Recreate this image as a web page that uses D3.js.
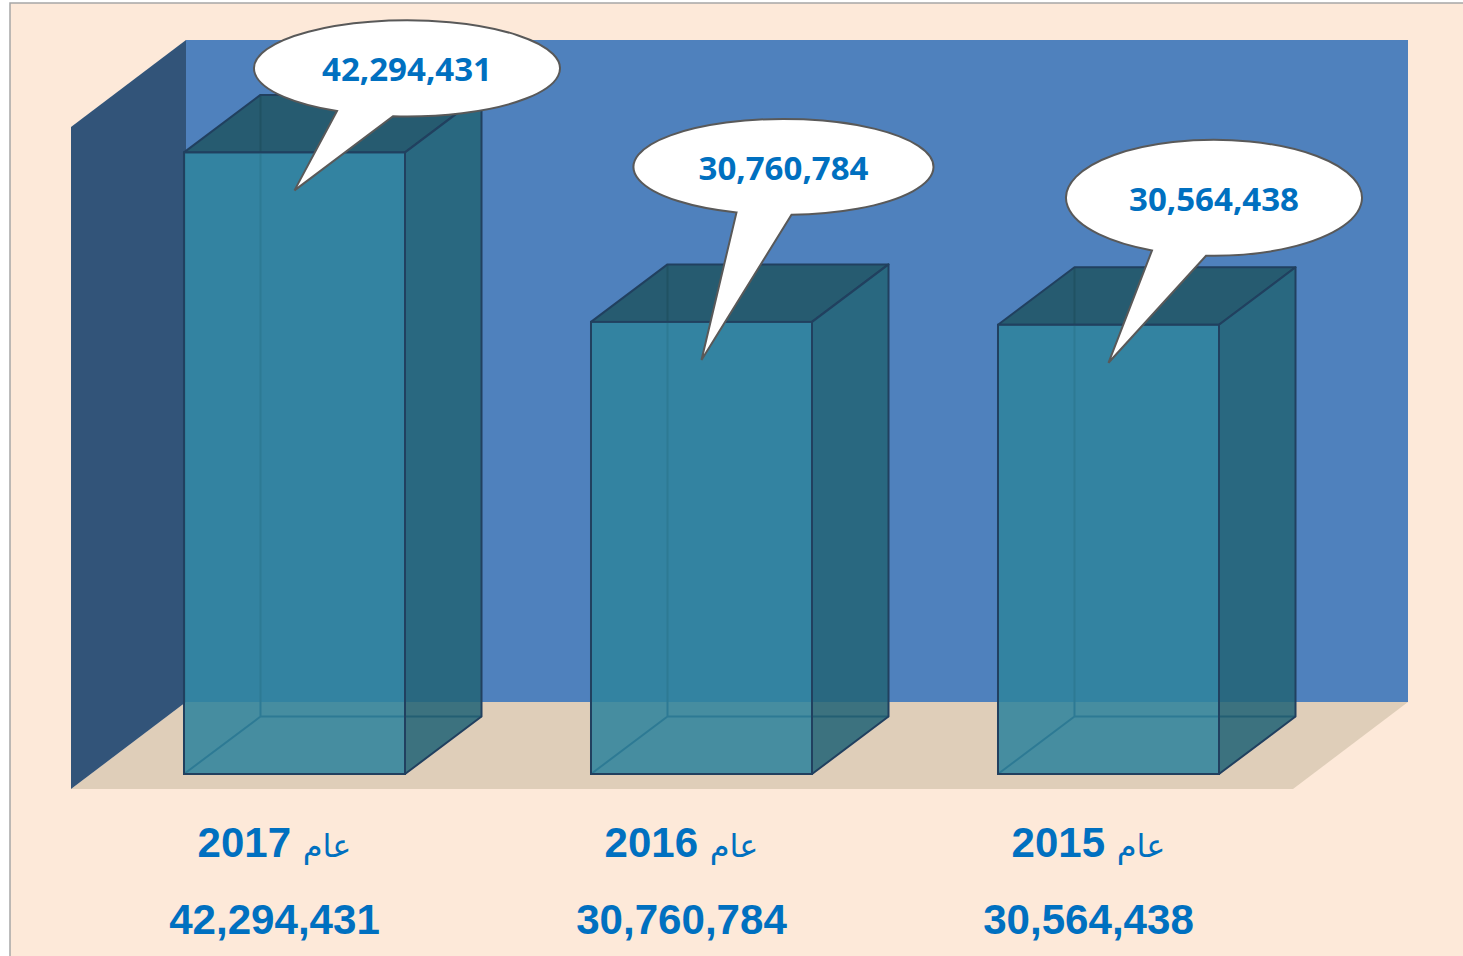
<!DOCTYPE html>
<html>
<head>
<meta charset="utf-8">
<script src="https://cdn.jsdelivr.net/npm/d3@7"></script>
<style>
  html, body { margin: 0; padding: 0; background: #fff; }
  svg { display: block; }
</style>
</head>
<body>
<div id="chart"></div>
<script>
const years = ["2017", "2016", "2015"];
const values = [42294431, 30760784, 30564438];
const yearPrefix = "عام";

// callouts, centre is offset from the tip of the tail, tail ends from the centre
const bubbleDx = [112.5, 82, 105.5];
const bubbleDy = [-122, -193, -165];
const bubbleRx = [153, 150, 148];
const bubbleRy = [48, 48, 58];
const tailLeft = [-70, -47, -62];
const tailRight = [-14, 8, -8];

const width = 1463, height = 956;
const depthX = 76.5, depthY = -57.5;   // the 3d offset of a bar
const wallX = 115, wallY = -87;    // the 3d offset of the walls

const x = d3.scaleBand().domain(years).range([91, 1312]).paddingInner(0.457).paddingOuter(0.2285);
const y = d3.scaleLinear().domain([0, d3.max(values)]).range([774, 152.4]);

const floorY = 789, floorLeft = 71, floorRight = 1293, wallTop = 40;
const fmt = d3.format(",");
const poly = pts => "M" + pts.map(p => p.join(",")).join("L") + "Z";

const svg = d3.select("#chart").append("svg")
    .attr("width", width)
    .attr("height", height);

// the slide background
svg.append("rect")
    .attr("x", 10).attr("y", 3)
    .attr("width", width + 10).attr("height", height + 10)
    .attr("fill", "#FDE9D9")
    .attr("stroke", "#A6A6A6")
    .attr("stroke-width", 1.5);

// walls and floor
svg.append("path")
    .attr("d", poly([[floorLeft + wallX, wallTop], [floorRight + wallX, wallTop], [floorRight + wallX, floorY + wallY], [floorLeft + wallX, floorY + wallY]]))
    .attr("fill", "#4F81BD");
svg.append("path")
    .attr("d", poly([[floorLeft, floorY], [floorLeft + wallX, floorY + wallY], [floorRight + wallX, floorY + wallY], [floorRight, floorY]]))
    .attr("fill", "#DFCEB9");
svg.append("path")
    .attr("d", poly([[floorLeft, wallTop - wallY], [floorLeft + wallX, wallTop], [floorLeft + wallX, floorY + wallY], [floorLeft, floorY]]))
    .attr("fill", "#325479");

// bars
const bar = svg.selectAll(".bar")
    .data(years)
    .enter().append("g")
    .attr("class", "bar");

const edge = "#21405F";

// hidden edges, they show faintly through the faces
bar.append("path")
    .attr("fill", "none")
    .attr("stroke", edge)
    .attr("stroke-width", 2)
    .attr("d", (d, i) => {
        const x0 = x(d), x1 = x0 + x.bandwidth(), y0 = y(0), yt = y(values[i]);
        return `M${x0},${y0}L${x0 + depthX},${y0 + depthY}L${x1 + depthX},${y0 + depthY}M${x0 + depthX},${y0 + depthY}L${x0 + depthX},${yt + depthY}`;
    });

bar.append("path")
    .attr("class", "top")
    .attr("fill", "#205564")
    .attr("fill-opacity", 0.87)
    .attr("stroke", edge)
    .attr("stroke-width", 2)
    .attr("stroke-linejoin", "round")
    .attr("d", (d, i) => {
        const x0 = x(d), x1 = x0 + x.bandwidth(), yt = y(values[i]);
        return poly([[x0, yt], [x0 + depthX, yt + depthY], [x1 + depthX, yt + depthY], [x1, yt]]);
    });

bar.append("path")
    .attr("class", "side")
    .attr("fill", "#246476")
    .attr("fill-opacity", 0.87)
    .attr("stroke", edge)
    .attr("stroke-width", 2)
    .attr("stroke-linejoin", "round")
    .attr("d", (d, i) => {
        const x1 = x(d) + x.bandwidth(), y0 = y(0), yt = y(values[i]);
        return poly([[x1, yt], [x1 + depthX, yt + depthY], [x1 + depthX, y0 + depthY], [x1, y0]]);
    });

bar.append("rect")
    .attr("class", "front")
    .attr("x", d => x(d))
    .attr("y", (d, i) => y(values[i]))
    .attr("width", x.bandwidth())
    .attr("height", (d, i) => y(0) - y(values[i]))
    .attr("fill", "#2F839C")
    .attr("fill-opacity", 0.87)
    .attr("stroke", edge)
    .attr("stroke-width", 2);

// callouts
const bubble = svg.selectAll(".bubble")
    .data(years)
    .enter().append("g")
    .attr("class", "bubble")
    .attr("transform", (d, i) => `translate(${x(d) + x.bandwidth() / 2},${y(values[i]) + 38})`);

bubble.append("path")
    .attr("fill", "#fff")
    .attr("stroke", "#595959")
    .attr("stroke-width", 2)
    .attr("stroke-linejoin", "miter")
    .attr("d", (d, i) => {
        const cx = bubbleDx[i], cy = bubbleDy[i], rx = bubbleRx[i], ry = bubbleRy[i];
        const onEdge = off => cy + ry * Math.sqrt(1 - Math.pow(off / rx, 2));
        const l = tailLeft[i], r = tailRight[i];
        return `M0,0L${cx + r},${onEdge(r)}A${rx},${ry} 0 1 0 ${cx + l},${onEdge(l)}Z`;
    });

bubble.append("text")
    .attr("x", (d, i) => bubbleDx[i])
    .attr("y", (d, i) => bubbleDy[i] + 13)
    .attr("text-anchor", "middle")
    .attr("font-family", "'Open Sans', sans-serif")
    .attr("font-weight", 700)
    .attr("font-size", 33)
    .attr("textLength", 170)
    .attr("lengthAdjust", "spacingAndGlyphs")
    .attr("fill", "#0070C0")
    .text((d, i) => fmt(values[i]));

// labels under the bars
const labelX = d => x(d) + x.bandwidth() / 2 - 20;

const yearLabel = svg.selectAll(".year-label")
    .data(years)
    .enter().append("text")
    .attr("class", "year-label")
    .attr("x", labelX)
    .attr("y", 857)
    .attr("text-anchor", "middle")
    .attr("direction", "rtl")
    .attr("font-family", "'Liberation Sans', Arial, sans-serif")
    .attr("font-weight", 700)
    .attr("font-size", 42)
    .attr("fill", "#0070C0");

yearLabel.append("tspan")
    .attr("font-family", "'DejaVu Sans', sans-serif")
    .attr("font-weight", 400)
    .attr("font-size", 32)
    .text(yearPrefix);

yearLabel.append("tspan")
    .text(d => " " + d);

svg.selectAll(".value-label")
    .data(years)
    .enter().append("text")
    .attr("class", "value-label")
    .attr("x", labelX)
    .attr("y", 934)
    .attr("text-anchor", "middle")
    .attr("font-family", "'Liberation Sans', Arial, sans-serif")
    .attr("font-weight", 700)
    .attr("font-size", 42.1)
    .attr("fill", "#0070C0")
    .text((d, i) => fmt(values[i]));
</script>
</body>
</html>
